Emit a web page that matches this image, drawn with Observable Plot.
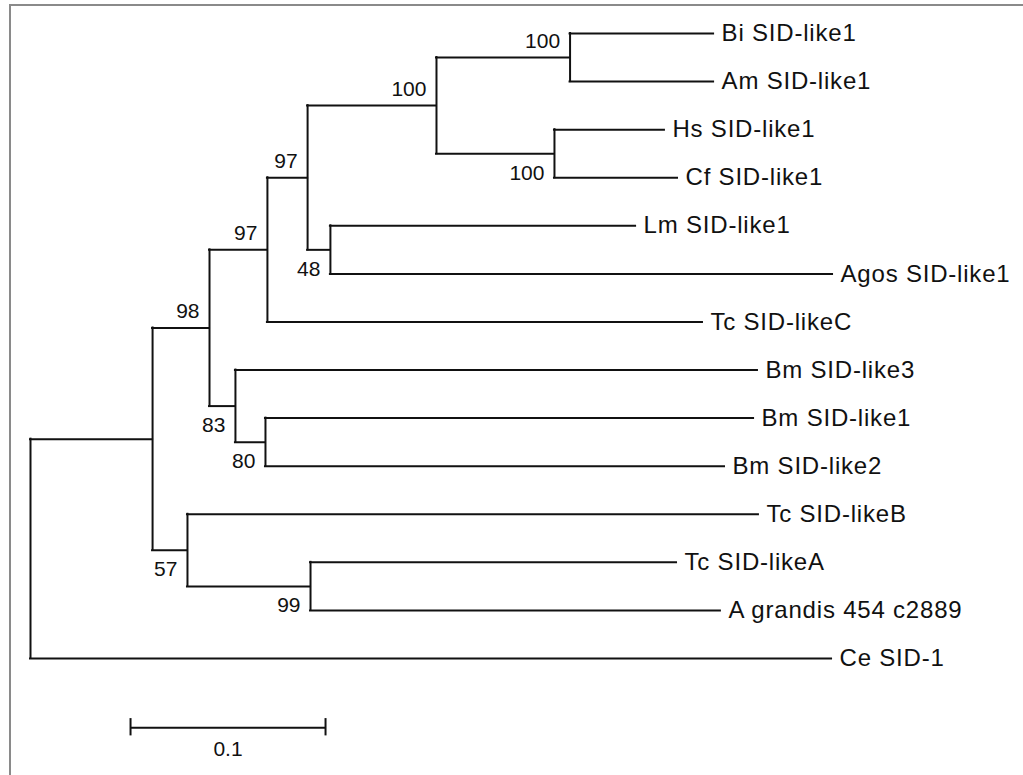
<!DOCTYPE html>
<html>
<head>
<meta charset="utf-8">
<script src="https://cdn.jsdelivr.net/npm/d3@7"></script>
<script src="https://cdn.jsdelivr.net/npm/@observablehq/plot@0.6"></script>
<style>
  html, body { margin: 0; padding: 0; background: #fff; overflow: hidden; }
  #wrap { position: relative; width: 1023px; height: 775px; }
  #frame { position: absolute; left: 9px; top: 4px; width: 1030px; height: 790px;
           border-top: 2px solid #8a8a8a; border-left: 2px solid #8a8a8a; box-sizing: border-box; }
  #chart { position: absolute; left: 0; top: 0; }
</style>
</head>
<body>
<div id="wrap"><div id="frame"></div><div id="chart"></div></div>
<script>
// Tree: node ids (leaves in display order), parent ids, branch lengths, bootstrap support
const nodeIds = ["root", "nA", "nB", "nC", "nE", "nF", "nH", "Bi SID-like1", "Am SID-like1",
  "nI", "Hs SID-like1", "Cf SID-like1", "nG", "Lm SID-like1", "Agos SID-like1", "Tc SID-likeC",
  "nD", "Bm SID-like3", "nJ", "Bm SID-like1", "Bm SID-like2", "nK", "Tc SID-likeB", "nL",
  "Tc SID-likeA", "A grandis 454 c2889", "Ce SID-1"];
const parentIds = [null, "root", "nA", "nB", "nC", "nE", "nF", "nH", "nH",
  "nF", "nI", "nI", "nE", "nG", "nG", "nC",
  "nB", "nD", "nD", "nJ", "nJ", "nA", "nK", "nK",
  "nL", "nL", "root"];
const branchLengths = [0, 0.0626, 0.0292, 0.0297, 0.0206, 0.0661, 0.0685, 0.0736, 0.0736,
  0.0605, 0.0564, 0.0631, 0.0117, 0.1565, 0.2575, 0.2231,
  0.0133, 0.2677, 0.0154, 0.2503, 0.2354, 0.0179, 0.2928, 0.0631,
  0.1877, 0.2102, 0.4108];
const bootstrap = [null, null, 98, 97, 97, 100, 100, null, null,
  100, null, null, 48, null, null, null,
  83, null, 80, null, null, 57, null, 99,
  null, null, null];
const scaleBarStart = [0.0513];
const scaleBarLength = [0.1];
const scaleBarLabel = ["0.1"];

// Build the tree from the arrays
const byId = new Map();
const N = nodeIds.map((id, i) => ({id, parentId: parentIds[i], len: branchLengths[i], boot: bootstrap[i], children: []}));
N.forEach(n => byId.set(n.id, n));
N.forEach(n => { if (n.parentId) byId.get(n.parentId).children.push(n); });
let leafIndex = 0;
function layout(n, depth) {
  n.x = depth;
  n.children.forEach(c => layout(c, depth + c.len));
  if (n.children.length === 0) { n.y = leafIndex++; }
  else {
    const ys = n.children.map(c => c.y);
    n.y = d3.mean(ys); n.yMin = d3.min(ys); n.yMax = d3.max(ys);
  }
}
const root = byId.get("root");
layout(root, 0);
N.forEach(n => {
  if (n.parentId) {
    const p = byId.get(n.parentId);
    n.px = p.x;
    n.upper = n.y < p.y;
  }
});
const branches = N.filter(n => n.parentId);
const internal = N.filter(n => n.children.length);
const leaves = N.filter(n => !n.children.length);
const supported = N.filter(n => n.boot != null);

const barY = leafIndex - 1 + 1.44;
const bar = [{x1: scaleBarStart[0], x2: scaleBarStart[0] + scaleBarLength[0], y: barY, label: scaleBarLabel[0]}];

const chart = Plot.plot({
  width: 1023,
  height: 775,
  marginLeft: 30,
  marginRight: 18,
  marginTop: 33,
  marginBottom: 117,
  x: {domain: [0, 0.5], axis: null},
  y: {domain: [0, leafIndex - 1], reverse: true, axis: null},
  style: {fontFamily: "'Liberation Sans', Arial, sans-serif", background: "transparent", overflow: "visible"},
  marks: [
    Plot.ruleY(branches, {y: "y", x1: "px", x2: "x", stroke: "#111", strokeWidth: 2, strokeLinecap: "square"}),
    Plot.ruleX(internal, {x: "x", y1: "yMin", y2: "yMax", stroke: "#111", strokeWidth: 2, strokeLinecap: "square"}),
    Plot.text(leaves, {x: "x", y: "y", text: "id", textAnchor: "start", dx: 8, fontSize: 24, fill: "#111"}),
    Plot.text(supported.filter(d => d.upper), {x: "x", y: "y", text: "boot", textAnchor: "end", lineAnchor: "bottom", dx: -10, dy: -10, fontSize: 21, fill: "#111"}),
    Plot.text(supported.filter(d => !d.upper), {x: "x", y: "y", text: "boot", textAnchor: "end", lineAnchor: "top", dx: -10, dy: 11, fontSize: 21, fill: "#111"}),
    Plot.ruleY(bar, {y: "y", x1: "x1", x2: "x2", stroke: "#111", strokeWidth: 2}),
    Plot.ruleX(bar, {x: "x1", y1: d => d.y - 0.19, y2: d => d.y + 0.17, stroke: "#111", strokeWidth: 2}),
    Plot.ruleX(bar, {x: "x2", y1: d => d.y - 0.19, y2: d => d.y + 0.17, stroke: "#111", strokeWidth: 2}),
    Plot.text(bar, {x: d => (d.x1 + d.x2) / 2, y: "y", text: "label", lineAnchor: "top", dy: 13, fontSize: 21, fill: "#111"})
  ]
});
// the leaf labels are slightly wide in the original
const textGroups = chart.querySelectorAll("g[aria-label='text']");
if (textGroups.length) textGroups[0].setAttribute("letter-spacing", "0.8");
document.getElementById("chart").appendChild(chart);
</script>
</body>
</html>
